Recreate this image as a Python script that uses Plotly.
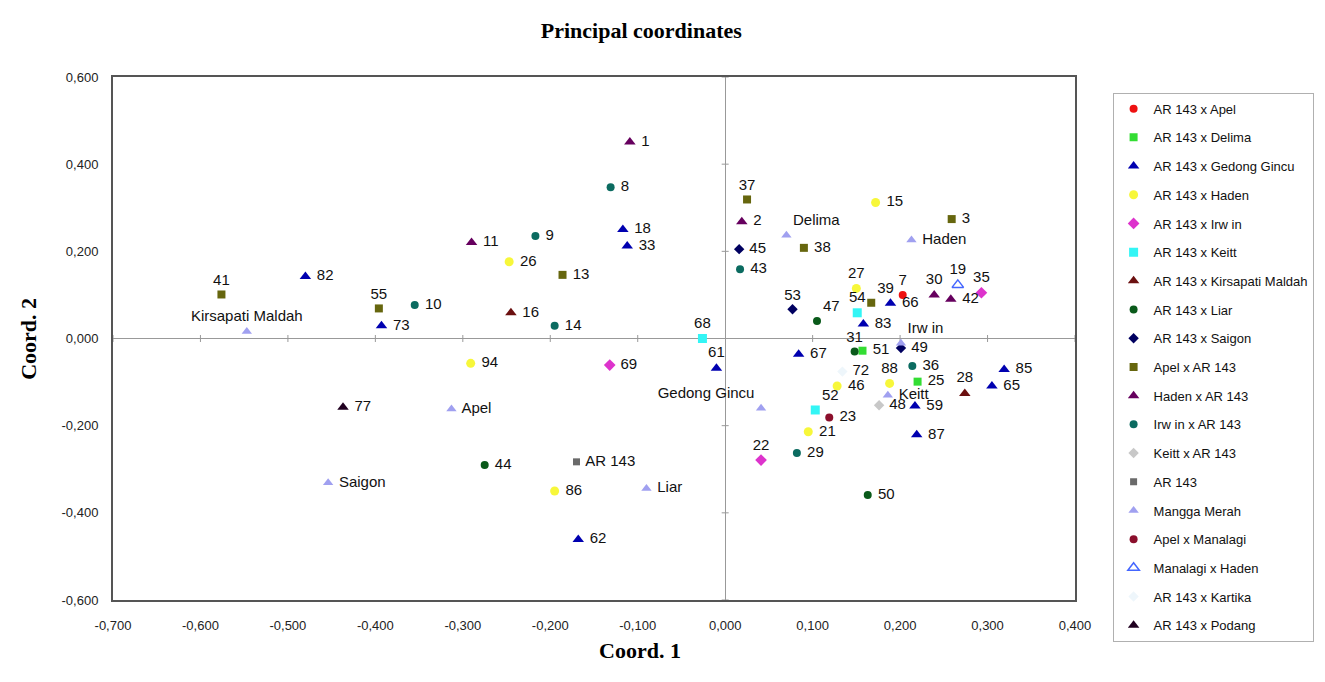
import plotly.graph_objects as go

# ---------------- data ----------------
XTICKS = [-0.7, -0.6, -0.5, -0.4, -0.3, -0.2, -0.1, 0.0, 0.1, 0.2, 0.3, 0.4]
YTICKS = [-0.6, -0.4, -0.2, 0.0, 0.2, 0.4, 0.6]

APEL_L = ["7"]
APEL_X = [0.203]
APEL_Y = [0.100]

DELIMA_L = ["25", "51"]
DELIMA_X = [0.220, 0.157]
DELIMA_Y = [-0.099, -0.028]

GEDONG_L = ["18", "33", "82", "73", "61", "67", "83", "66", "85", "65", "59", "87", "62"]
GEDONG_X = [-0.117, -0.112, -0.480, -0.393, -0.010, 0.084, 0.158, 0.189, 0.319, 0.305, 0.217, 0.219, -0.168]
GEDONG_Y = [0.250, 0.212, 0.142, 0.029, -0.068, -0.036, 0.033, 0.081, -0.071, -0.109, -0.155, -0.221, -0.461]

HADEN_L = ["26", "94", "86", "15", "27", "46", "88", "21"]
HADEN_X = [-0.247, -0.291, -0.195, 0.172, 0.150, 0.128, 0.188, 0.095]
HADEN_Y = [0.176, -0.057, -0.350, 0.312, 0.115, -0.109, -0.103, -0.214]

IRWIN_L = ["69", "22", "35"]
IRWIN_X = [-0.132, 0.041, 0.293]
IRWIN_Y = [-0.061, -0.279, 0.105]

KEITT_L = ["68", "54", "52"]
KEITT_X = [-0.026, 0.151, 0.103]
KEITT_Y = [0.000, 0.059, -0.164]

KIRSAPATI_L = ["16", "28"]
KIRSAPATI_X = [-0.245, 0.274]
KIRSAPATI_Y = [0.059, -0.126]

LIAR_L = ["44", "47", "31", "50"]
LIAR_X = [-0.275, 0.105, 0.148, 0.163]
LIAR_Y = [-0.290, 0.040, -0.030, -0.359]

SAIGON_L = ["45", "53", "49"]
SAIGON_X = [0.016, 0.077, 0.201]
SAIGON_Y = [0.205, 0.067, -0.022]

APELxAR_L = ["41", "55", "13", "37", "38", "3", "39"]
APELxAR_X = [-0.576, -0.396, -0.186, 0.025, 0.090, 0.259, 0.167]
APELxAR_Y = [0.101, 0.069, 0.146, 0.319, 0.208, 0.274, 0.082]

HADENxAR_L = ["1", "11", "2", "30", "42"]
HADENxAR_X = [-0.109, -0.290, 0.019, 0.239, 0.258]
HADENxAR_Y = [0.451, 0.220, 0.268, 0.100, 0.090]

IRWINxAR_L = ["8", "9", "10", "14", "43", "29", "36"]
IRWINxAR_X = [-0.131, -0.217, -0.355, -0.195, 0.017, 0.082, 0.214]
IRWINxAR_Y = [0.347, 0.235, 0.077, 0.029, 0.159, -0.263, -0.063]

KEITTxAR_L = ["48"]
KEITTxAR_X = [0.176]
KEITTxAR_Y = [-0.153]

AR143_L = ["AR 143"]
AR143_X = [-0.170]
AR143_Y = [-0.283]

MERAH_L = ["Delima", "Haden", "Kirsapati Maldah", "Irw in", "Apel", "Saigon", "Liar", "Gedong Gincu", "Keitt"]
MERAH_X = [0.070, 0.213, -0.547, 0.201, -0.313, -0.454, -0.090, 0.041, 0.186]
MERAH_Y = [0.237, 0.226, 0.016, -0.011, -0.162, -0.331, -0.344, -0.160, -0.130]

APELxMAN_L = ["23"]
APELxMAN_X = [0.119]
APELxMAN_Y = [-0.181]

MANxHADEN_L = ["19"]
MANxHADEN_X = [0.266]
MANxHADEN_Y = [0.123]

KARTIKA_L = ["72"]
KARTIKA_X = [0.134]
KARTIKA_Y = [-0.076]

PODANG_L = ["77"]
PODANG_X = [-0.437]
PODANG_Y = [-0.158]

# ---------------- styles ----------------
LABEL_POS = {
    "41": "top center", "55": "top center", "Kirsapati Maldah": "top center",
    "68": "top center", "61": "top center", "37": "top center", "Delima": "top right",
    "27": "top center", "39": "top right", "7": "top center", "30": "top center",
    "19": "top center", "35": "top center", "53": "top center", "47": "top right",
    "54": "top center", "Irw in": "top right", "31": "top center", "88": "top center",
    "28": "top center", "Gedong Gincu": "top left", "52": "top right", "22": "top center",
}

series = [
    ("AR 143 x Apel", APEL_L, APEL_X, APEL_Y, "circle", "#ee1111", 8),
    ("AR 143 x Delima", DELIMA_L, DELIMA_X, DELIMA_Y, "square", "#33dd33", 8),
    ("AR 143 x Gedong Gincu", GEDONG_L, GEDONG_X, GEDONG_Y, "triangle-up", "#0000b0", 10),
    ("AR 143 x Haden", HADEN_L, HADEN_X, HADEN_Y, "circle", "#f7f73a", 9),
    ("AR 143 x Irw in", IRWIN_L, IRWIN_X, IRWIN_Y, "diamond", "#dd33cc", 9),
    ("AR 143 x Keitt", KEITT_L, KEITT_X, KEITT_Y, "square", "#33f5f5", 9),
    ("AR 143 x Kirsapati Maldah", KIRSAPATI_L, KIRSAPATI_X, KIRSAPATI_Y, "triangle-up", "#6b1010", 10),
    ("AR 143 x Liar", LIAR_L, LIAR_X, LIAR_Y, "circle", "#0a5a1a", 8),
    ("AR 143 x Saigon", SAIGON_L, SAIGON_X, SAIGON_Y, "diamond", "#000060", 8),
    ("Apel x AR 143", APELxAR_L, APELxAR_X, APELxAR_Y, "square", "#66660e", 8),
    ("Haden x AR 143", HADENxAR_L, HADENxAR_X, HADENxAR_Y, "triangle-up", "#66005e", 10),
    ("Irw in x AR 143", IRWINxAR_L, IRWINxAR_X, IRWINxAR_Y, "circle", "#0b6b60", 8),
    ("Keitt x AR 143", KEITTxAR_L, KEITTxAR_X, KEITTxAR_Y, "diamond", "#c8c8c8", 8),
    ("AR 143", AR143_L, AR143_X, AR143_Y, "square", "#6a6a6a", 7),
    ("Mangga Merah", MERAH_L, MERAH_X, MERAH_Y, "triangle-up", "#a0a0f0", 9),
    ("Apel x Manalagi", APELxMAN_L, APELxMAN_X, APELxMAN_Y, "circle", "#8b0f2c", 8),
    ("Manalagi x Haden", MANxHADEN_L, MANxHADEN_X, MANxHADEN_Y, "triangle-up-open", "#4466ff", 10),
    ("AR 143 x Kartika", KARTIKA_L, KARTIKA_X, KARTIKA_Y, "diamond", "#eef6fb", 8),
    ("AR 143 x Podang", PODANG_L, PODANG_X, PODANG_Y, "triangle-up", "#200020", 10),
]


def fmt(v):
    s = f"{abs(v):.3f}".replace(".", ",")
    return ("-" + s) if v < -1e-9 else s


fig = go.Figure()
for i, (name, labels, xs, ys, sym, col, size) in enumerate(series):
    positions = [LABEL_POS.get(l, "middle right") for l in labels]
    fig.add_trace(go.Scatter(
        x=xs, y=ys, mode="markers+text", name=name,
        text=[" " + l if LABEL_POS.get(l, "middle right") == "middle right" else l for l in labels],
        textposition=positions,
        textfont=dict(family="Arial, Liberation Sans", size=15, color="#111"),
        marker=dict(symbol=sym, color=col, size=size,
                    line=dict(width=1.5 if "open" in sym else 0, color=col)),
        legendgroup=f"g{i}",
        cliponaxis=False,
    ))

# small cross ticks on the zero axes (Excel style)
shapes = []
for xv in XTICKS:
    if abs(xv) > 1e-9:
        shapes.append(dict(type="line", xref="x", yref="y", x0=xv, x1=xv, y0=-0.008, y1=0.008,
                           line=dict(color="#999", width=1), layer="below"))
for yv in YTICKS:
    if abs(yv) > 1e-9:
        shapes.append(dict(type="line", xref="x", yref="y", x0=-0.004, x1=0.004, y0=yv, y1=yv,
                           line=dict(color="#999", width=1), layer="below"))

fig.update_layout(
    width=1325, height=682,
    margin=dict(l=113, r=249, t=77, b=82),
    paper_bgcolor="white", plot_bgcolor="white",
    showlegend=True,
    shapes=shapes,
    title=dict(text="<b>Principal coordinates</b>", x=0.484, xanchor="center",
               y=0.955, yanchor="middle",
               font=dict(family="Liberation Serif, Times New Roman", size=22, color="#000")),
    legend=dict(x=1.038, xanchor="left", y=0.97, yanchor="top",
                bordercolor="#b0b0b0", borderwidth=1, bgcolor="white",
                font=dict(family="Arial, Liberation Sans", size=13, color="#111"),
                tracegroupgap=8.8, itemwidth=30, maxheight=640),
    annotations=[
        dict(text="<b>Coord. 1</b>", xref="paper", yref="paper", x=0.548, y=-0.068,
             xanchor="center", yanchor="top", showarrow=False,
             font=dict(family="Liberation Serif, Times New Roman", size=22, color="#000")),
        dict(text="<b>Coord. 2</b>", xref="paper", yref="paper", x=-0.088, y=0.5,
             xanchor="center", yanchor="middle", showarrow=False, textangle=-90,
             font=dict(family="Liberation Serif, Times New Roman", size=22, color="#000")),
    ],
)

fig.update_xaxes(range=[XTICKS[0], XTICKS[-1]], tickvals=XTICKS, ticktext=[fmt(v) for v in XTICKS],
                 showgrid=False, zeroline=True, zerolinecolor="#999", zerolinewidth=1,
                 showline=True, mirror=True, linecolor="#555", linewidth=2,
                 ticks="", ticklabelstandoff=12,
                 tickfont=dict(family="Arial, Liberation Sans", size=13, color="#222"))
fig.update_yaxes(range=[YTICKS[0], YTICKS[-1]], tickvals=YTICKS, ticktext=[fmt(v) for v in YTICKS],
                 showgrid=False, zeroline=True, zerolinecolor="#999", zerolinewidth=1,
                 showline=True, mirror=True, linecolor="#555", linewidth=2,
                 ticks="", ticklabelstandoff=10,
                 tickfont=dict(family="Arial, Liberation Sans", size=13, color="#222"))

fig.write_html("out.html")
